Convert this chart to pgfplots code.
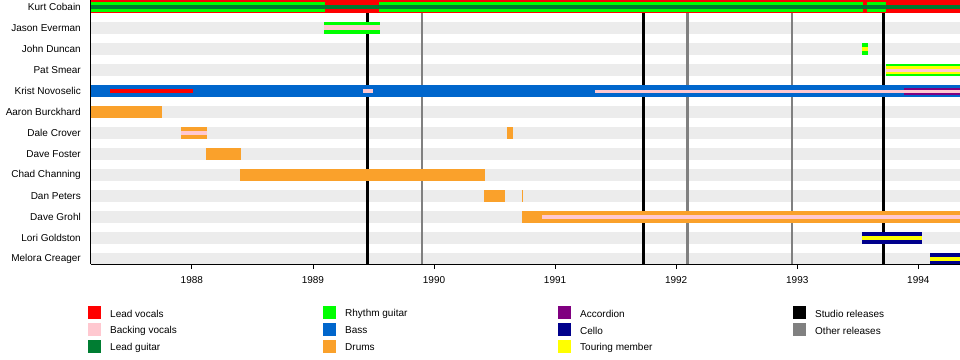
\documentclass[border=0pt]{standalone}
\usepackage{pgfplots}
\pgfplotsset{compat=1.18}
\usepackage{fontspec}
\setmainfont{Liberation Sans}
\definecolor{cVoc}{RGB}{255,0,0}
\definecolor{cBack}{RGB}{255,200,208}
\definecolor{cLead}{RGB}{0,125,50}
\definecolor{cRhy}{RGB}{0,255,0}
\definecolor{cBass}{RGB}{0,102,204}
\definecolor{cDrum}{RGB}{250,161,43}
\definecolor{cAcc}{RGB}{128,0,128}
\definecolor{cCello}{RGB}{0,0,140}
\definecolor{cTour}{RGB}{255,255,0}
\definecolor{cStudio}{RGB}{0,0,0}
\definecolor{cOther}{RGB}{128,128,128}
\definecolor{cBg}{RGB}{236,236,236}
\newcommand{\seg}[5]{\addplot[line width=#4pt, color=#5, forget plot] coordinates {(#1,#3) (#2,#3)};}
\newcommand{\rel}[2]{\addplot[line width=2.5pt, color=#2, forget plot] coordinates {(#1,0) (#1,14)};}
\newcommand{\legitem}[4]{\fill[#3] (#1pt,#2pt-6.2pt) rectangle ++(12.4pt,12.4pt); \node[anchor=west, inner sep=0pt] at (#1pt+21.7pt,#2pt-1pt) {#4};}
\begin{document}
\begin{tikzpicture}
\useasboundingbox (0,0) rectangle (960pt,359pt);
\begin{axis}[
  at={(90.5pt,95pt)}, anchor=south west,
  scale only axis, width=869.5pt, height=264pt,
  xmin=1987.163, xmax=1994.344,
  ymin=0.6667, ymax=13.238, y dir=reverse,
  axis x line*=bottom, axis y line*=left,
  axis line style={black, line width=0.8pt},
  axis on top=true,
  xtick={1988,1989,1990,1991,1992,1993,1994},
  xticklabels={1988,1989,1990,1991,1992,1993,1994},
  tick align=outside, major tick length=5pt,
  xtick style={black, line width=0.8pt},
  ytick={1,...,13},
  yticklabels={Kurt Cobain,Jason Everman,John Duncan,Pat Smear,Krist Novoselic,Aaron Burckhard,Dale Crover,Dave Foster,Chad Channing,Dan Peters,Dave Grohl,Lori Goldston,Melora Creager},
  ytick style={draw=none},
  yticklabel style={font=\fontsize{10}{12}\selectfont, inner sep=0pt, anchor=east, xshift=-4.5pt},
  xticklabel style={font=\fontsize{10}{12}\selectfont, yshift=-3.5pt},
]
% background stripes
\pgfplotsinvokeforeach{2,...,13}{\addplot[line width=12pt, color=cBg, forget plot] coordinates {(1987.163,#1) (1994.344,#1)};}
% release lines
\rel{1989.450}{cStudio}
\rel{1989.899}{cOther}
\rel{1991.729}{cStudio}
\rel{1992.093}{cOther}
\rel{1992.955}{cOther}
\rel{1993.712}{cStudio}
% Kurt Cobain
\seg{1987.163}{1994.344}{1}{13}{cVoc}
\seg{1987.163}{1989.100}{1}{9.5}{cRhy}
\seg{1989.546}{1993.541}{1}{9.5}{cRhy}
\seg{1993.574}{1993.731}{1}{9.5}{cRhy}
\seg{1987.163}{1994.344}{1}{4.5}{cLead}
% Jason Everman
\seg{1989.093}{1989.555}{2}{12}{cRhy}
\seg{1989.093}{1989.555}{2}{5}{cBack}
% John Duncan
\seg{1993.537}{1993.587}{3}{12}{cRhy}
\seg{1993.537}{1993.587}{3}{4}{cTour}
% Pat Smear
\seg{1993.733}{1994.344}{4}{12}{cRhy}
\seg{1993.733}{1994.344}{4}{8}{cTour}
\seg{1993.733}{1994.344}{4}{3}{cBack}
% Krist Novoselic
\seg{1987.163}{1994.344}{5}{12}{cBass}
\seg{1987.325}{1988.008}{5}{4}{cVoc}
\seg{1989.412}{1989.495}{5}{3.5}{cBack}
\seg{1993.882}{1994.344}{5}{7}{cAcc}
\seg{1991.329}{1994.344}{5}{3}{cBack}
% Aaron Burckhard
\seg{1987.163}{1987.755}{6}{12}{cDrum}
% Dale Crover
\seg{1987.912}{1988.126}{7}{12}{cDrum}
\seg{1987.912}{1988.126}{7}{3.5}{cBack}
\seg{1990.605}{1990.654}{7}{12}{cDrum}
% Dave Foster
\seg{1988.118}{1988.407}{8}{12}{cDrum}
% Chad Channing
\seg{1988.399}{1990.422}{9}{12}{cDrum}
% Dan Peters
\seg{1990.414}{1990.587}{10}{12}{cDrum}
\seg{1990.725}{1990.733}{10}{12}{cDrum}
% Dave Grohl
\seg{1990.727}{1994.344}{11}{12}{cDrum}
\seg{1990.893}{1994.344}{11}{4}{cBack}
% Lori Goldston
\seg{1993.537}{1994.032}{12}{12}{cCello}
\seg{1993.537}{1994.032}{12}{4}{cTour}
% Melora Creager
\seg{1994.098}{1994.344}{13}{12}{cCello}
\seg{1994.098}{1994.344}{13}{4}{cTour}
\end{axis}
% legend
\begingroup
\fontsize{10}{12}\selectfont
\legitem{88.3}{46.5}{cVoc}{Lead vocals}
\legitem{88.3}{29.5}{cBack}{Backing vocals}
\legitem{88.3}{12.5}{cLead}{Lead guitar}
\legitem{323.3}{46.5}{cRhy}{Rhythm guitar}
\legitem{323.3}{29.5}{cBass}{Bass}
\legitem{323.3}{12.5}{cDrum}{Drums}
\legitem{558.3}{46.5}{cAcc}{Accordion}
\legitem{558.3}{29.5}{cCello}{Cello}
\legitem{558.3}{12.5}{cTour}{Touring member}
\legitem{793.3}{46.5}{cStudio}{Studio releases}
\legitem{793.3}{29.5}{cOther}{Other releases}
\endgroup
\end{tikzpicture}
\end{document}
